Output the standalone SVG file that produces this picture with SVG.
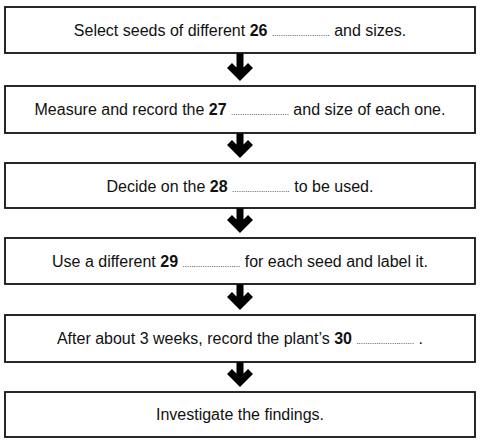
<svg xmlns="http://www.w3.org/2000/svg" width="480" height="444" viewBox="0 0 480 444">
<style>
.box{fill:#fff;stroke:#111;stroke-width:1.8}
.t{font-family:"Liberation Sans",Arial,sans-serif;font-size:16px;fill:#111;text-anchor:middle}
.b{font-weight:bold}
.d{font-size:8px;fill:#000}
.arrow{fill:none;stroke:#000;stroke-width:7;stroke-linejoin:miter;stroke-linecap:butt}
</style>
<rect width="480" height="444" fill="#fff"/>
<g id="connectors">
<path class="arrow" d="M240 53V76M229.5 65.5L240 76L250.5 65.5"/>
<path class="arrow" d="M240 133V153M229.5 142.5L240 153L250.5 142.5"/>
<path class="arrow" d="M240 208V228M229.5 217.5L240 228L250.5 217.5"/>
<path class="arrow" d="M240 284V305M229.5 294.5L240 305L250.5 294.5"/>
<path class="arrow" d="M240 362V382M229.5 371.5L240 382L250.5 371.5"/>
</g>
<g id="step1">
<rect class="box" x="5" y="7" width="470" height="46"/>
<text class="t" x="240" y="36">Select seeds of different <tspan class="b">26</tspan> <tspan class="d">..........................</tspan> and sizes.</text>
</g>
<g id="step2">
<rect class="box" x="5" y="86" width="470" height="47"/>
<text class="t" x="240" y="115">Measure and record the <tspan class="b">27</tspan> <tspan class="d">..........................</tspan> and size of each one.</text>
</g>
<g id="step3">
<rect class="box" x="5" y="163" width="470" height="45"/>
<text class="t" x="240" y="192">Decide on the <tspan class="b">28</tspan> <tspan class="d">..........................</tspan> to be used.</text>
</g>
<g id="step4">
<rect class="box" x="5" y="238" width="470" height="46"/>
<text class="t" x="240" y="267">Use a different <tspan class="b">29</tspan> <tspan class="d">..........................</tspan> for each seed and label it.</text>
</g>
<g id="step5">
<rect class="box" x="5" y="315" width="470" height="47"/>
<text class="t" x="240" y="344">After about 3 weeks, record the plant’s <tspan class="b">30</tspan> <tspan class="d">..........................</tspan> .</text>
</g>
<g id="step6">
<rect class="box" x="5" y="392" width="470" height="45"/>
<text class="t" x="240" y="420">Investigate the findings.</text>
</g>
</svg>
